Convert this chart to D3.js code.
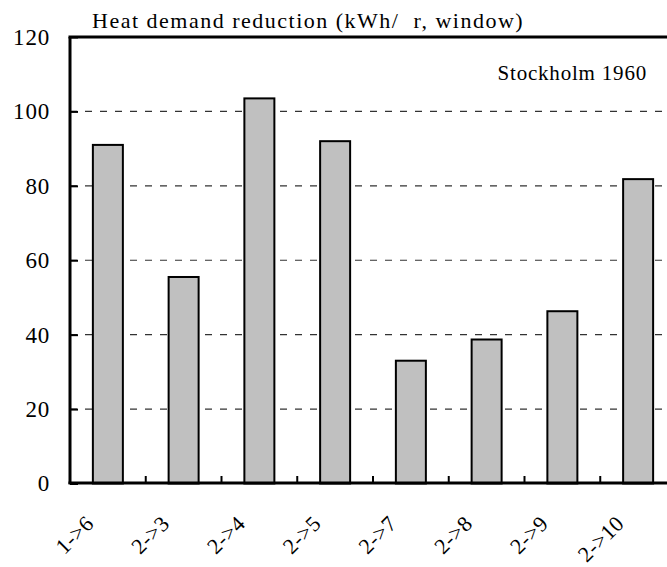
<!DOCTYPE html>
<html>
<head>
<meta charset="utf-8">
<script src="https://cdn.jsdelivr.net/npm/d3@7"></script>
<style>
  html, body { margin: 0; padding: 0; background: #fff; }
  svg { display: block; font-family: "Liberation Serif", "DejaVu Serif", serif; }
</style>
</head>
<body>
<svg id="chart" width="667" height="567"></svg>
<script>
// Window replacement cases and their heat demand reduction
const categories = ["1->6", "2->3", "2->4", "2->5", "2->7", "2->8", "2->9", "2->10"];
const reduction = [91, 55.5, 103.5, 92, 33, 38.7, 46.3, 81.8];
const yTicks = [0, 20, 40, 60, 80, 100, 120];
const titleText = "Heat demand reduction (kWh/  r, window)";
const noteText = "Stockholm 1960";

const svg = d3.select("#chart");
const margin = { left: 70, top: 37, right: -9, bottom: 84 };
const W = 667, H = 567;
const x0 = margin.left, x1 = W - margin.right;
const y0 = H - margin.bottom, y1 = margin.top;

const x = d3.scaleBand().domain(categories).range([x0, x1]).paddingInner(0.604).paddingOuter(0.302);
const y = d3.scaleLinear().domain([0, 120]).range([y0 + 0.5, y1]);

// dashed gridlines
svg.append("g").selectAll("line")
  .data(yTicks.filter(t => t > 0 && t < 120))
  .join("line")
  .attr("x1", x0).attr("x2", x1)
  .attr("y1", d => y(d)).attr("y2", d => y(d))
  .attr("stroke", "#333").attr("stroke-width", 1.2)
  .attr("stroke-dasharray", "7,8");

// bars
svg.append("g").selectAll("rect")
  .data(categories.map((c, i) => ({ c, v: reduction[i] })))
  .join("rect")
  .attr("x", d => x(d.c))
  .attr("width", x.bandwidth())
  .attr("y", d => y(d.v))
  .attr("height", d => y(0) - y(d.v))
  .attr("fill", "#c0c0c0")
  .attr("stroke", "#000")
  .attr("stroke-width", 2);

// y axis with inward ticks
const yAxis = d3.axisLeft(y).tickValues(yTicks).tickSize(-8).tickPadding(20);
const gy = svg.append("g").attr("transform", `translate(${x0},0)`).call(yAxis);
gy.select(".domain").remove();
gy.selectAll(".tick line").attr("stroke", "#000").attr("stroke-width", 2);
gy.selectAll(".tick text")
  .attr("font-family", "Liberation Serif, serif").attr("font-size", 23)
  .attr("letter-spacing", 0.8).attr("fill", "#000");

// x axis: rotated category labels and ticks between categories
const step = x.step();
const xAxis = d3.axisBottom(x).tickSize(0).tickPadding(0);
const gx = svg.append("g").attr("transform", `translate(0,${y0})`).call(xAxis);
gx.select(".domain").remove();
gx.selectAll(".tick text")
  .attr("font-family", "Liberation Serif, serif").attr("font-size", 22)
  .attr("letter-spacing", 0.3).attr("fill", "#000")
  .attr("text-anchor", "end")
  .attr("dy", 0)
  .attr("transform", "translate(-13,42) rotate(-45)");

svg.append("g").selectAll("line")
  .data(categories.slice(1))
  .join("line")
  .attr("x1", d => x(d) - (step - x.bandwidth()) / 2)
  .attr("x2", d => x(d) - (step - x.bandwidth()) / 2)
  .attr("y1", y0).attr("y2", y0 - 7)
  .attr("stroke", "#000").attr("stroke-width", 2);

// frame lines
svg.append("line").attr("x1", x0).attr("x2", x0).attr("y1", y1).attr("y2", y0 + 1)
  .attr("stroke", "#000").attr("stroke-width", 3);
svg.append("line").attr("x1", x0 - 1.5).attr("x2", x1).attr("y1", y0).attr("y2", y0)
  .attr("stroke", "#000").attr("stroke-width", 3);
svg.append("line").attr("x1", x0 - 1.5).attr("x2", x1).attr("y1", y1).attr("y2", y1)
  .attr("stroke", "#000").attr("stroke-width", 3);

// title and annotation
svg.append("text").attr("x", 92).attr("y", 28)
  .attr("font-size", 22).attr("letter-spacing", 1.5)
  .style("white-space", "pre").attr("fill", "#000")
  .text(titleText);
svg.append("text").attr("x", 647).attr("y", 80).attr("text-anchor", "end")
  .attr("font-size", 21).attr("letter-spacing", 0.8).attr("fill", "#000")
  .text(noteText);
</script>
</body>
</html>
